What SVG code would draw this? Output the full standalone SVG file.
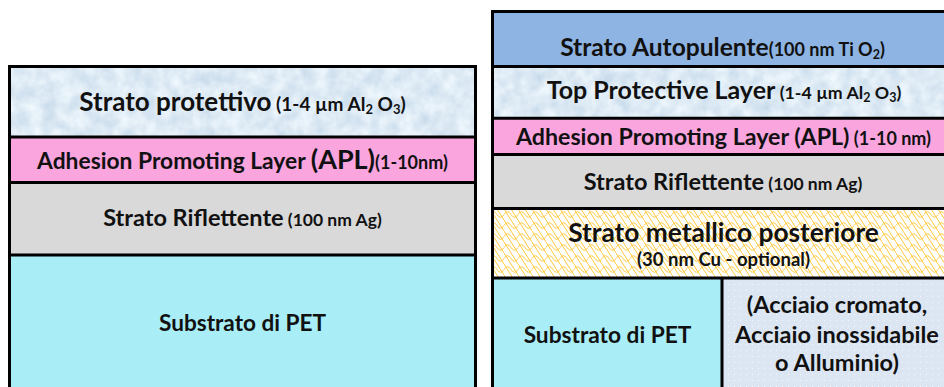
<svg xmlns="http://www.w3.org/2000/svg" width="944" height="387" viewBox="0 0 944 387">
<defs>
<style>
.t{font-family:Lato,"Liberation Sans",sans-serif;font-weight:bold;fill:#111;text-anchor:middle}
.ln{stroke:#000;stroke-width:3;fill:none}
</style>
<filter id="mottle" x="0" y="0" width="100%" height="100%" color-interpolation-filters="sRGB">
<feTurbulence type="fractalNoise" baseFrequency="0.07" numOctaves="3" seed="4" result="n"/>
<feColorMatrix in="n" type="matrix" values="0.22 0 0 0 0.76  0.16 0 0 0 0.84  0.1 0 0 0 0.91  0 0 0 0 1"/>
</filter>
<pattern id="scales" width="14" height="11" patternUnits="userSpaceOnUse">
<rect width="14" height="11" fill="#FFFFFF"/>
<path d="M0 5.5 Q3.5 0 7 5.5 Q10.5 11 14 5.5 M0 0 Q3.5 5.5 7 11 M7 0 Q10.5 5.5 14 11" stroke="#FFC83A" stroke-width="1" fill="none"/>
</pattern>
<pattern id="dots" width="6" height="6" patternUnits="userSpaceOnUse">
<rect width="6" height="6" fill="#DCE6F2"/>
<rect x="2" y="2" width="1" height="1" fill="#F4F8FC"/>
</pattern>
</defs>

<g id="left-stack">
<g id="l-protettivo">
<rect x="9.5" y="66.5" width="466" height="70.5" fill="#E1ECF8" filter="url(#mottle)"/>
<text class="t" x="242.5" y="111"><tspan font-size="26">Strato protettivo</tspan><tspan font-size="19"> (1-4 µm Al</tspan><tspan font-size="13" dy="3">2</tspan><tspan font-size="19" dy="-3"> O</tspan><tspan font-size="13" dy="3">3</tspan><tspan font-size="19" dy="-3">)</tspan></text>
</g>
<g id="l-apl">
<rect x="9.5" y="137" width="466" height="45.5" fill="#FBA5DF"/>
<text class="t" x="242.5" y="169"><tspan font-size="22.8">Adhesion Promoting Layer </tspan><tspan font-size="27">(APL)</tspan><tspan font-size="18">(1-10nm)</tspan></text>
</g>
<g id="l-riflettente">
<rect x="9.5" y="182.5" width="466" height="72.5" fill="#D9D9D9"/>
<text class="t" x="242.5" y="226"><tspan font-size="23.5">Strato Riflettente</tspan><tspan font-size="17.5"> (100 nm Ag)</tspan></text>
</g>
<g id="l-pet">
<rect x="9.5" y="255" width="466" height="140" fill="#A9EEF6"/>
<text class="t" x="242.5" y="331" font-size="22.6">Substrato di PET</text>
</g>
</g>

<g id="right-stack">
<g id="r-autopulente">
<rect x="492.5" y="11.5" width="460" height="55" fill="#8EB4E3"/>
<text class="t" x="722.5" y="56"><tspan font-size="24.6">Strato Autopulente</tspan><tspan font-size="18">(100 nm Ti O</tspan><tspan font-size="12.5" dy="3">2</tspan><tspan font-size="18" dy="-3">)</tspan></text>
</g>
<g id="r-protective">
<rect x="492.5" y="66.5" width="460" height="51.8" fill="#E1ECF8" filter="url(#mottle)"/>
<text class="t" x="724" y="99"><tspan font-size="25">Top Protective Layer</tspan><tspan font-size="17.8"> (1-4 µm Al</tspan><tspan font-size="12.5" dy="3">2</tspan><tspan font-size="17.8" dy="-3"> O</tspan><tspan font-size="12.5" dy="3">3</tspan><tspan font-size="17.8" dy="-3">)</tspan></text>
</g>
<g id="r-apl">
<rect x="492.5" y="118.3" width="460" height="36.2" fill="#FBA5DF"/>
<text class="t" x="723.5" y="145"><tspan font-size="23.2">Adhesion Promoting Layer (APL)</tspan><tspan font-size="18"> (1-10 nm)</tspan></text>
</g>
<g id="r-riflettente">
<rect x="492.5" y="154.5" width="460" height="54" fill="#D9D9D9"/>
<text class="t" x="723" y="190"><tspan font-size="23.5">Strato Riflettente</tspan><tspan font-size="17.5"> (100 nm Ag)</tspan></text>
</g>
<g id="r-metallico">
<rect x="492.5" y="208.5" width="460" height="69.5" fill="url(#scales)"/>
<text class="t" x="723.5" y="242" font-size="26.3">Strato metallico posteriore</text>
<text class="t" x="723.5" y="266" font-size="18.5">(30 nm Cu - optional)</text>
</g>
<g id="r-pet">
<rect x="492.5" y="278" width="229.5" height="117" fill="#A9EEF6"/>
<text class="t" x="607.5" y="343" font-size="22.7">Substrato di PET</text>
</g>
<g id="r-acciaio">
<rect x="722" y="278" width="230" height="117" fill="url(#dots)"/>
<text class="t" x="837" y="313" font-size="23.5">(Acciaio cromato,</text>
<text class="t" x="837" y="343" font-size="23.5">Acciaio inossidabile</text>
<text class="t" x="837" y="371" font-size="23.5">o Alluminio)</text>
</g>
</g>

<g id="connectors">
<rect class="ln" x="9.5" y="66.5" width="466" height="330"/>
<line class="ln" x1="9.5" y1="137" x2="475.5" y2="137"/>
<line class="ln" x1="9.5" y1="182.5" x2="475.5" y2="182.5"/>
<line class="ln" x1="9.5" y1="255" x2="475.5" y2="255"/>
<rect class="ln" x="492.5" y="11.5" width="460" height="390"/>
<line class="ln" x1="492.5" y1="66.5" x2="952" y2="66.5"/>
<line class="ln" x1="492.5" y1="118.3" x2="952" y2="118.3"/>
<line class="ln" x1="492.5" y1="154.5" x2="952" y2="154.5"/>
<line class="ln" x1="492.5" y1="208.5" x2="952" y2="208.5"/>
<line class="ln" x1="492.5" y1="278" x2="952" y2="278"/>
<line class="ln" x1="722" y1="278" x2="722" y2="400"/>
</g>
</svg>
